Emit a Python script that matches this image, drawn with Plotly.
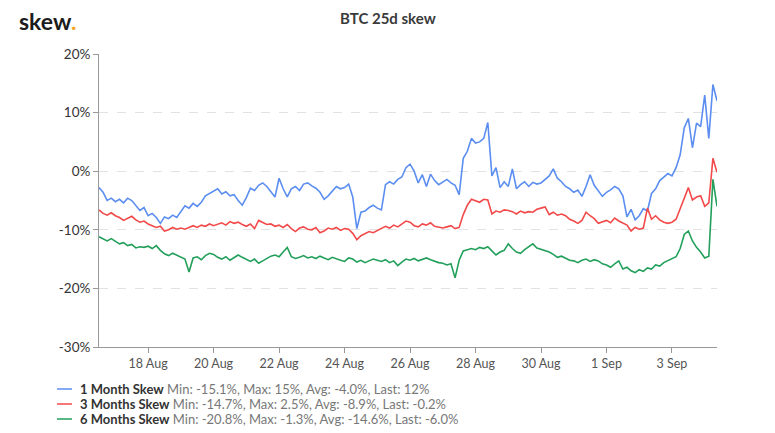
import plotly.graph_objects as go
import pandas as pd

# ---------------- data (3-hourly, 16 Aug 12:00 -> 4 Sep 09:00) ----------------
start_time = "2019-08-16 12:00"
end_time = "2019-09-04 09:00"
step = "3h"

one_month = [
    -2.8, -3.6, -5.0, -4.6,                              # 16 Aug
    -5.2, -4.8, -5.4, -4.6, -5.0, -5.8, -6.7, -6.2,      # 17 Aug
    -7.6, -7.2, -7.9, -8.9, -7.8, -8.1, -7.5, -7.9,      # 18 Aug
    -6.8, -5.9, -6.3, -5.5, -6.0, -5.3, -4.2, -3.8,      # 19 Aug
    -3.4, -3.0, -3.9, -3.5, -4.2, -4.0, -5.0, -5.8,      # 20 Aug
    -4.5, -2.9, -3.3, -2.4, -2.0, -2.6, -3.5, -4.4,      # 21 Aug
    -1.2, -3.0, -4.4, -3.0, -2.6, -3.3, -2.2, -2.0,      # 22 Aug
    -2.5, -2.9, -3.6, -4.8, -4.2, -3.3, -2.6, -3.0,      # 23 Aug
    -2.8, -2.2, -4.4, -9.8, -7.0, -6.8, -6.2, -5.8,      # 24 Aug
    -6.3, -6.6, -2.3, -1.8, -2.2, -1.4, -1.0, 0.6,       # 25 Aug
    1.2, 0.0, -2.0, -0.6, -2.6, -0.5, -1.6, -2.3,        # 26 Aug
    -1.9, -1.4, -2.0, -2.4, -4.0, 2.2, 3.4, 5.6,         # 27 Aug
    4.8, 5.0, 5.6, 8.3, -0.8, 0.6, -2.8, -1.8,           # 28 Aug
    -2.6, 0.4, -3.0, -2.3, -1.8, -2.6, -1.9, -2.2,       # 29 Aug
    -2.0, -1.4, -0.8, 0.4, -1.2, -1.8, -2.6, -3.0,       # 30 Aug
    -3.6, -3.2, -4.3, -2.6, -0.6, -2.4, -3.4, -4.3,      # 31 Aug
    -3.6, -3.2, -2.6, -3.0, -4.2, -7.8, -6.5, -8.3,      # 1 Sep
    -7.6, -6.4, -6.8, -3.8, -3.0, -1.6, -1.0, -0.4,      # 2 Sep
    -0.8, 0.6, 2.8, 7.4, 9.0, 4.0, 8.2, 7.6,             # 3 Sep
    13.0, 5.6, 14.8, 12.0,                               # 4 Sep
]

three_months = [
    -6.6, -7.2, -7.5, -7.1,
    -7.6, -7.9, -8.4, -8.0, -7.7, -8.3, -8.7, -8.5,
    -9.0, -9.3, -9.6, -9.4, -10.2, -10.0, -9.6, -9.9,
    -9.7, -9.9, -9.6, -9.3, -9.6, -9.2, -9.4, -9.0,
    -9.3, -9.0, -8.8, -9.2, -8.6, -8.9, -8.7, -9.1,
    -9.4, -9.0, -9.8, -8.4, -8.8, -9.1, -9.0, -9.4,
    -9.2, -9.6, -9.1, -9.8, -10.3, -9.7, -9.5, -9.9,
    -10.0, -9.6, -10.5, -10.2, -9.7, -9.9, -9.6, -10.1,
    -9.8, -9.9, -10.6, -11.7, -11.0, -10.7, -10.3, -10.5,
    -10.1, -9.8, -9.4, -9.7, -9.2, -9.5, -9.0, -8.5,
    -8.7, -9.3, -9.5, -9.0, -9.2, -8.8, -9.4, -9.6,
    -9.7, -9.5, -9.3, -9.8, -9.6, -7.4, -5.8, -4.8,
    -5.0, -5.3, -4.8, -4.9, -7.3, -6.8, -7.0, -6.6,
    -6.7, -6.9, -7.3, -6.8, -7.1, -6.9, -7.0, -6.5,
    -6.3, -6.1, -7.4, -7.0, -7.5, -7.3, -7.6, -8.2,
    -8.5, -8.9, -8.4, -7.0, -7.6, -8.1, -8.9, -8.6,
    -8.4, -8.8, -8.0, -8.5, -8.9, -9.2, -10.2, -9.6,
    -9.9, -9.7, -6.3, -8.2, -7.6, -8.3, -8.7, -8.9,
    -8.7, -8.2, -6.4, -4.6, -2.8, -4.9, -4.4, -4.2,
    -6.0, -5.4, 2.2, -0.2,
]

six_months = [
    -11.2, -11.6, -11.9, -11.5,
    -12.0, -12.4, -12.2, -12.7, -12.5, -13.1, -12.9, -13.0,
    -12.8, -13.2, -12.7, -13.5, -14.1, -14.4, -14.0, -14.3,
    -14.6, -15.0, -17.2, -14.8, -14.6, -15.1, -14.4, -14.0,
    -14.2, -14.7, -15.0, -14.6, -15.2, -14.8, -14.3, -14.7,
    -15.0, -15.4, -15.0, -15.7, -15.3, -14.9, -14.5, -14.3,
    -14.6, -13.8, -13.0, -14.6, -14.9, -14.7, -14.4, -14.8,
    -14.6, -14.9, -14.5, -14.8, -15.1, -14.7, -15.0, -15.2,
    -15.4, -14.8, -15.0, -15.5, -15.2, -15.6, -15.3, -15.0,
    -15.2, -15.4, -15.1, -15.6, -15.3, -16.1, -15.5, -15.0,
    -15.2, -14.9, -15.3, -15.0, -14.8, -15.1, -15.4, -15.6,
    -15.7, -16.0, -15.8, -18.2, -15.2, -13.6, -13.4, -13.2,
    -13.4, -13.0, -13.2, -12.9, -13.6, -14.3, -13.8, -13.5,
    -12.4, -13.2, -13.8, -14.0, -13.4, -12.9, -12.4, -13.1,
    -13.3, -13.6, -13.8, -14.2, -14.7, -14.5, -14.8, -15.2,
    -15.3, -15.6, -15.2, -15.0, -15.4, -15.1, -15.3, -15.8,
    -16.0, -16.4, -15.8, -15.3, -16.7, -16.4, -17.0, -17.3,
    -16.8, -17.1, -16.5, -16.7, -16.0, -16.2, -15.6, -15.3,
    -15.0, -14.6, -13.2, -10.8, -10.2, -11.9, -13.0, -13.8,
    -14.8, -14.5, -1.4, -6.0,
]

series_names = ["1 Month Skew", "3 Months Skew", "6 Months Skew"]
series_stats = [
    "Min: -15.1%, Max: 15%, Avg: -4.0%, Last: 12%",
    "Min: -14.7%, Max: 2.5%, Avg: -8.9%, Last: -0.2%",
    "Min: -20.8%, Max: -1.3%, Avg: -14.6%, Last: -6.0%",
]
series_colors = ["#5b8ef0", "#f24a4a", "#22a05b"]

x_tick_dates = ["2019-08-18", "2019-08-20", "2019-08-22", "2019-08-24", "2019-08-26",
                "2019-08-28", "2019-08-30", "2019-09-01", "2019-09-03"]
x_tick_labels = ["18 Aug", "20 Aug", "22 Aug", "24 Aug", "26 Aug",
                 "28 Aug", "30 Aug", "1 Sep", "3 Sep"]
y_tick_vals = [-30, -20, -10, 0, 10, 20]
y_tick_labels = ["-30%", "-20%", "-10%", "0%", "10%", "20%"]

times = pd.date_range(start_time, end_time, freq=step)

# page body has an 8px default margin; size/margins compensate for it
fig = go.Figure()
for name, vals, col in zip(series_names, [one_month, three_months, six_months], series_colors):
    fig.add_trace(go.Scatter(x=times, y=vals, mode="lines", name=name,
                             line=dict(color=col, width=1.6), showlegend=False))

FONT = "Lato, 'Open Sans', sans-serif"

# plot area on screen: x 99..717, y 54..347
PL, PR, PT, PB = 99, 717, 54, 347
PW, PH = PR - PL, PB - PT


def px(x):
    return (x - PL) / PW


def py(y):
    return (PB - y) / PH


fig.update_layout(
    width=767, height=425,
    margin=dict(l=PL - 8, r=775 - PR, t=PT - 8, b=433 - PB),
    paper_bgcolor="white", plot_bgcolor="white",
    font=dict(family=FONT, color="#333"),
    xaxis=dict(
        range=[times[0], times[-1]],
        tickvals=pd.to_datetime(x_tick_dates), ticktext=x_tick_labels,
        showgrid=False, zeroline=False,
        showline=True, linecolor="#999", linewidth=1,
        ticks="outside", ticklen=5, tickcolor="#999",
        tickfont=dict(size=12.5, color="#555"),
    ),
    yaxis=dict(
        range=[-30, 20],
        tickvals=y_tick_vals, ticktext=y_tick_labels,
        showgrid=True, gridcolor="#e2e2e2", griddash="dash", gridwidth=1,
        zeroline=False,
        showline=True, linecolor="#999", linewidth=1,
        ticks="outside", ticklen=5, tickcolor="#999",
        tickfont=dict(size=13.5, color="#333"),
    ),
)

# title and logo
fig.add_annotation(text="<b>BTC 25d skew</b>", xref="paper", yref="paper",
                   x=px(387.5), y=py(18), xanchor="center", yanchor="middle",
                   showarrow=False, font=dict(size=15, color="#3a3a3a", family=FONT))
fig.add_annotation(text="<b>skew</b><b><span style='color:#f5a623'>.</span></b>",
                   xref="paper", yref="paper",
                   x=px(17), y=py(21), xanchor="left", yanchor="middle",
                   showarrow=False, font=dict(size=23, color="#1c1c1c", family=FONT))

# manual legend
row_y = [389, 404, 419]
for name, stats, col, ry in zip(series_names, series_stats, series_colors, row_y):
    fig.add_shape(type="line", xref="paper", yref="paper",
                  x0=px(57), x1=px(72), y0=py(ry), y1=py(ry),
                  line=dict(color=col, width=1.5))
    fig.add_annotation(text=f"<b>{name}</b> <span style='color:#777'>{stats}</span>",
                       xref="paper", yref="paper", x=px(78), y=py(ry),
                       xanchor="left", yanchor="middle", showarrow=False,
                       font=dict(size=13, color="#333", family=FONT))

fig.write_html("out.html")
